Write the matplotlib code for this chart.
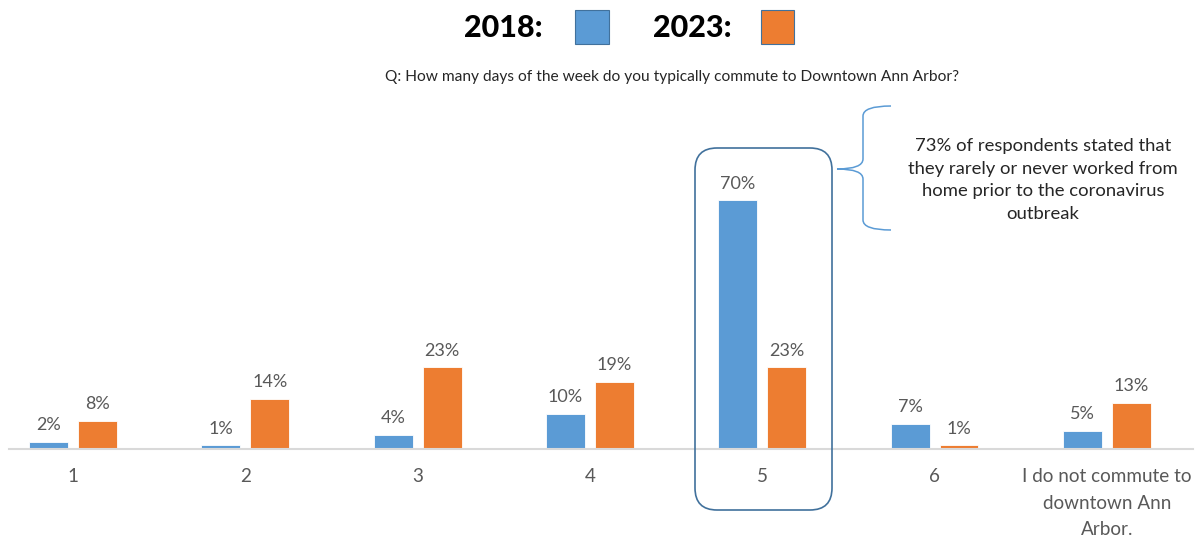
import matplotlib
matplotlib.use("Agg")
import matplotlib.pyplot as plt
from matplotlib.patches import FancyBboxPatch, PathPatch, Rectangle
from matplotlib.path import Path
import numpy as np

# Survey results: share of respondents by commute days per week
categories = ["1", "2", "3", "4", "5", "6", "I do not commute to\ndowntown Ann\nArbor."]
share_2018 = [2, 1, 4, 10, 70, 7, 5]
share_2023 = [8, 14, 23, 19, 23, 1, 13]
series_names = ["2018:", "2023:"]
question = "Q: How many days of the week do you typically commute to Downtown Ann Arbor?"
callout = ("73% of respondents stated that\nthey rarely or never worked from\n"
           "home prior to the coronavirus\noutbreak")

BLUE = "#5B9BD5"
ORANGE = "#ED7D31"
GREY_TXT = "#595959"
BODY_FONT = ["Lato", "DejaVu Sans"]

W, H = 1201, 540
fig = plt.figure(figsize=(W / 100, H / 100), dpi=100)


def px_axes(x0, y0, x1, y1):
    """Axes placed by pixel box (top-left origin)."""
    return fig.add_axes([x0 / W, 1 - y1 / H, (x1 - x0) / W, (y1 - y0) / H])


# Main bar chart
ax = px_axes(9, 100, 1193, 449)
x = np.arange(len(categories))
bw = 0.226
off = 0.142
b1 = ax.bar(x - off, share_2018, bw, color=BLUE, edgecolor="white", linewidth=0.6, zorder=2)
b2 = ax.bar(x + off, share_2023, bw, color=ORANGE, edgecolor="white", linewidth=0.6, zorder=2)
ax.set_xlim(-0.371, 6.50)
ax.set_ylim(0, 349 / 3.55)

for bars, vals in ((b1, share_2018), (b2, share_2023)):
    for rect, v in zip(bars, vals):
        ax.annotate(f"{v}%", (rect.get_x() + rect.get_width() / 2, v),
                    xytext=(0, 8.5), textcoords="offset points",
                    ha="center", va="baseline", fontsize=13,
                    color=GREY_TXT, family=BODY_FONT)

for s in ("top", "right", "left"):
    ax.spines[s].set_visible(False)
ax.spines["bottom"].set_color("#D9D9D9")
ax.spines["bottom"].set_linewidth(1.5)
ax.set_yticks([])
ax.set_xticks(x)
ax.set_xticklabels(categories, fontsize=13.6, color=GREY_TXT, family=BODY_FONT,
                   linespacing=1.68, va="top")
ax.tick_params(axis="x", length=0, pad=14)

# Overlay in pixel coordinates for header and callout
ov = px_axes(0, 0, W, H)
ov.set_xlim(0, W)
ov.set_ylim(H, 0)
ov.axis("off")
ov.patch.set_alpha(0)

# Header legend
ov.text(543, 28, series_names[0], ha="right", va="center", fontsize=22,
        fontweight="black", family=["Lato", "DejaVu Sans"], color="black")
ov.add_patch(Rectangle((575, 10), 34, 34, facecolor=BLUE, edgecolor="#41719C", linewidth=0.8))
ov.text(732, 28, series_names[1], ha="right", va="center", fontsize=22,
        fontweight="black", family=["Lato", "DejaVu Sans"], color="black")
ov.add_patch(Rectangle((761, 10), 33, 34, facecolor=ORANGE, edgecolor="#41719C", linewidth=0.8))

# Question line
ov.text(672, 77, question, ha="center", va="center", fontsize=11.2,
        family=BODY_FONT, color="#262626")

# Highlight box around category 5
ov.add_patch(FancyBboxPatch((695, 148), 137, 362,
                            boxstyle="round,pad=0,rounding_size=22",
                            facecolor="none", edgecolor="#41719C", linewidth=1.2, zorder=5))

# Curly brace pointing at the box
verts = [(891, 106), (863, 106), (863, 116),
         (863, 159),
         (863, 169), (837, 169),
         (863, 169), (863, 179),
         (863, 220),
         (863, 230), (891, 230)]
codes = [Path.MOVETO, Path.CURVE3, Path.CURVE3,
         Path.LINETO,
         Path.CURVE3, Path.CURVE3,
         Path.CURVE3, Path.CURVE3,
         Path.LINETO,
         Path.CURVE3, Path.CURVE3]
ov.add_patch(PathPatch(Path(verts, codes), facecolor="none", edgecolor=BLUE, linewidth=1.1))

ov.text(1043, 180, callout, ha="center", va="center", fontsize=13.3,
        family=BODY_FONT, color="#262626", linespacing=1.5)

fig.savefig("out.png", dpi=100)
